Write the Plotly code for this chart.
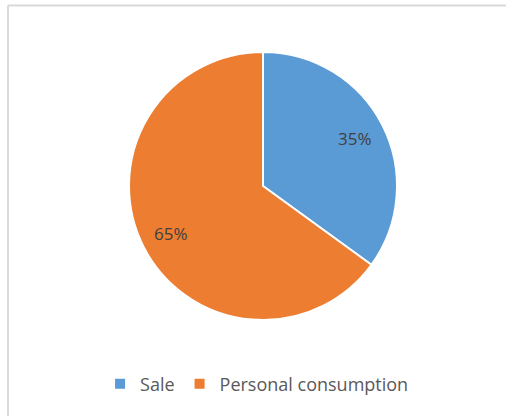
import math
import plotly.graph_objects as go

labels = ["Sale", "Personal consumption"]
values = [35, 65]
colors = ["#5B9BD5", "#ED7D31"]

W, H = 506, 416
dom_x = [129 / W, 397 / W]
dom_y = [1 - 320 / H, 1 - 52 / H]

fig = go.Figure(
    go.Pie(
        labels=labels,
        values=values,
        sort=False,
        direction="clockwise",
        rotation=0,
        marker=dict(colors=colors, line=dict(color="white", width=2)),
        textinfo="none",
        domain=dict(x=dom_x, y=dom_y),
        hoverinfo="label+percent",
    )
)

# percent labels placed further out along each slice's mid-angle (Excel style)
total = sum(values)
cx = (dom_x[0] + dom_x[1]) / 2
cy = (dom_y[0] + dom_y[1]) / 2
r_px = min((dom_x[1] - dom_x[0]) * W, (dom_y[1] - dom_y[0]) * H) / 2
cum = 0
annotations = []
for v in values:
    mid = (cum + v / 2) / total * 2 * math.pi
    cum += v
    annotations.append(dict(
        x=cx + 0.77 * r_px * math.sin(mid) / W,
        y=cy + 0.78 * r_px * math.cos(mid) / H,
        xref="paper", yref="paper", showarrow=False,
        xanchor="center", yanchor="middle",
        text=f"{round(v / total * 100)}%",
        font=dict(size=17, color="#404040"),
    ))

fig.update_layout(
    width=W,
    height=H,
    paper_bgcolor="white",
    plot_bgcolor="white",
    margin=dict(l=0, r=0, t=0, b=0),
    font=dict(family="Open Sans, sans-serif", color="#595959"),
    annotations=annotations,
    legend=dict(
        orientation="h",
        x=0.508,
        xanchor="center",
        y=1 - 384 / H,
        yanchor="middle",
        font=dict(size=18, color="#595959"),
        itemwidth=30,
    ),
    # light grey frame (top and left edges visible in the crop)
    shapes=[
        dict(type="line", xref="paper", yref="paper",
             x0=8 / W, x1=1, y0=1 - 5.5 / H, y1=1 - 5.5 / H,
             line=dict(color="#D9D9D9", width=2)),
        dict(type="line", xref="paper", yref="paper",
             x0=8 / W, x1=8 / W, y0=0, y1=1 - 5.5 / H,
             line=dict(color="#D9D9D9", width=2)),
    ],
)

fig.write_html(
    "out.html",
    config={"displayModeBar": False},
    post_script="document.body.style.margin='0';",
)
